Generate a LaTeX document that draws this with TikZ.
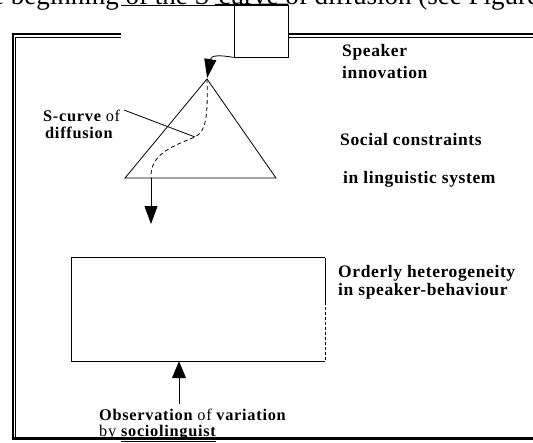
\documentclass[tikz,border=0pt]{standalone}
\usepackage{fontspec}
\setmainfont{Liberation Serif}
\newfontfamily\lblfont{Liberation Serif}[LetterSpace=3.5]
\newfontfamily\obsfont{Liberation Serif}[LetterSpace=4.5]
\usetikzlibrary{arrows.meta}
\begin{document}
\begin{tikzpicture}[x=1pt,y=-1pt,
  lbl/.style={anchor=base west, inner sep=0pt, font=\lblfont\fontsize{17.5}{17.5}\selectfont\bfseries},
  lblsmall/.style={anchor=base west, inner sep=0pt, font=\obsfont\fontsize{16.3}{16.3}\selectfont\bfseries},
  thinline/.style={line width=0.8pt},
  framethick/.style={line width=2.4pt},
  framethin/.style={line width=1pt},
  bigtip/.style={-{Triangle[length=19pt,width=12pt]}},
]
\useasboundingbox (0,0) rectangle (533,442);
\clip (0,0) rectangle (533,442);

% cut-off running text at the top
\node[anchor=base west, inner sep=0pt, font=\fontsize{27}{27}\selectfont] (toptext) at (-8,4.5) {e beginning of the S-curve of diffusion (see Figure};
\draw[line width=0.8pt] (121,5.5) -- (215,5.5);

% frame
\draw[framethick] (13,440) -- (13,34.2) -- (121,34.2);
\draw[framethick] (288,34.2) -- (540,34.2);
\draw[framethin] (15.8,440) -- (15.8,37) -- (121,37);
\draw[framethin] (288,37) -- (540,37);
\draw[line width=2.5pt] (12,438.7) -- (540,438.7);

% small box
\node[draw, thinline, inner sep=0pt, minimum width=54pt, minimum height=52pt] (sbox) at (261,31) {};
\draw[line width=2pt] (215,5) -- (sbox.north east);

% triangle
\coordinate (apex) at (207,79);
\coordinate (bl) at (125,178);
\coordinate (br) at (276,178);
\draw[thinline] (apex) -- (bl) -- (br) -- cycle;

% arrow from box to apex
\draw[thinline, bigtip, shorten >=1pt] (sbox.south west) .. controls (220,55) and (211,55) .. (apex);

% S-curve
\coordinate (smid) at (195,137);
\coordinate (sbot) at (151,178);
\draw[thinline, dash pattern=on 4pt off 3pt] (apex) .. controls (208,118) and (206,131) .. (smid) .. controls (170,147) and (150,155) .. (sbot);

% pointer from label
\coordinate (ptr) at (124,110);
\draw[thinline] (ptr) -- (smid);

% down arrow
\draw[thinline, -{Triangle[length=18pt,width=13pt]}] (sbot) -- (sbot |- 0,224);

% observation box
\node[inner sep=0pt, minimum width=253pt, minimum height=103pt] (obsbox) at (198.5,309.5) {};
\draw[thinline] (obsbox.north east) -- (obsbox.north west) -- (obsbox.south west) -- (obsbox.south east);
\draw[thinline] (obsbox.north east) -- ++(0,44) coordinate (rmid);
\draw[thinline, densely dashed] (rmid) -- (obsbox.south east);

% up arrow
\coordinate (obs) at (179,404);
\draw[thinline, -{Triangle[length=17pt,width=14pt]}] (obs) -- (obs |- obsbox.south);

% labels
\node[lbl] (spk1) at (342,56) {Speaker};
\node[lbl] (spk2) at (342,78) {innovation};
\node[lbl] (soc) at (340,145) {Social constraints};
\node[lbl] (ling) at (343,183) {in linguistic system};
\node[lblsmall] (sc1) at (43,121) {S-curve \mdseries of};
\node[lblsmall] (sc2) at (45,138) {diffusion};
\node[lbl] (ord1) at (338,277) {Orderly heterogeneity};
\node[lbl] (ord2) at (338,295) {in speaker-behaviour};
\node[lblsmall] (obs1) at (99,420) {Observation \mdseries of \bfseries variation};
\node[lblsmall] (obs2) at (99,436) {\mdseries by \bfseries\underline{sociolinguist}};
\end{tikzpicture}
\end{document}
